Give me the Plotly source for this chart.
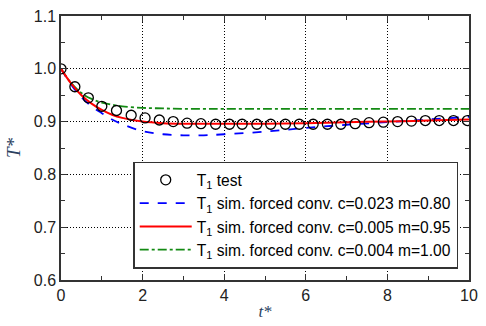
import plotly.graph_objects as go

# ---- data ----
t_test = [0.0, 0.34, 0.67, 1.0, 1.36, 1.72, 2.06, 2.41, 2.75, 3.09, 3.43, 3.79, 4.13,
          4.44, 4.80, 5.14, 5.50, 5.84, 6.18, 6.53, 6.86, 7.21, 7.55, 7.90, 8.25, 8.59,
          8.93, 9.27, 9.62, 9.96]
T_test = [1.000, 0.966, 0.945, 0.929, 0.921, 0.912, 0.907, 0.903, 0.900, 0.897, 0.896,
          0.895, 0.895, 0.895, 0.895, 0.895, 0.895, 0.895, 0.895, 0.895, 0.895, 0.896,
          0.898, 0.899, 0.900, 0.901, 0.902, 0.902, 0.902, 0.902]

t_sim = [0.0, 0.25, 0.5, 0.75, 1.0, 1.25, 1.5, 2.0, 2.5, 3.0, 3.5, 4.0, 5.0, 6.0, 7.0,
         8.0, 9.0, 10.0]
T_blue = [1.000, 0.970, 0.946, 0.929, 0.916, 0.904, 0.895, 0.882, 0.876, 0.874, 0.874,
          0.876, 0.881, 0.888, 0.894, 0.899, 0.904, 0.909]
T_red = [1.000, 0.972, 0.950, 0.934, 0.922, 0.913, 0.907, 0.900, 0.897, 0.896, 0.896,
         0.896, 0.896, 0.897, 0.899, 0.900, 0.902, 0.904]
T_green = [1.000, 0.973, 0.954, 0.943, 0.936, 0.932, 0.929, 0.926, 0.925, 0.924, 0.924,
           0.924, 0.924, 0.924, 0.924, 0.924, 0.924, 0.924]

names = ["T<sub>1</sub> test",
         "T<sub>1</sub> sim. forced conv. c=0.023 m=0.80",
         "T<sub>1</sub> sim. forced conv. c=0.005 m=0.95",
         "T<sub>1</sub> sim. forced conv. c=0.004 m=1.00"]

fig = go.Figure()
fig.add_trace(go.Scatter(x=t_sim, y=T_blue, mode="lines", name=names[1], legendrank=2,
                         line=dict(color="#0000ff", width=1.8, dash="dash", shape="spline")))
fig.add_trace(go.Scatter(x=t_sim, y=T_green, mode="lines", name=names[3], legendrank=4,
                         line=dict(color="#138a13", width=1.8, dash="dashdot", shape="spline")))
fig.add_trace(go.Scatter(x=t_sim, y=T_red, mode="lines", name=names[2], legendrank=3,
                         line=dict(color="#ff0000", width=2, shape="spline")))
fig.add_trace(go.Scatter(x=t_test, y=T_test, mode="markers", name=names[0], legendrank=1,
                         marker=dict(symbol="circle-open", size=10,
                                     color="black", line=dict(width=1.3, color="black"))))

axis_common = dict(
    showline=True, linecolor="#333333", linewidth=1.5, mirror="allticks",
    ticks="inside", ticklen=6, tickwidth=1.2, tickcolor="#333333",
    showgrid=True, gridcolor="black", gridwidth=1, griddash="1px,2px",
    zeroline=False,
    tickfont=dict(family="Liberation Sans, Arial", size=16, color="#222222"),
)

fig.update_xaxes(range=[0, 10], dtick=2, tick0=0,
                 minor=dict(dtick=1, ticks="inside", ticklen=4, tickcolor="#333333", showgrid=False),
                 title=dict(text="<i>t*</i>", standoff=2,
                            font=dict(family="Liberation Serif, Times New Roman", size=17)),
                 **axis_common)
fig.update_yaxes(range=[0.6, 1.1], dtick=0.1, tick0=0.6, tickformat=".1f",
                 minor=dict(dtick=0.05, ticks="inside", ticklen=4, tickcolor="#333333", showgrid=False),
                 title=dict(text="<i>T*</i>", standoff=8,
                            font=dict(family="Liberation Serif, Times New Roman", size=19)),
                 **axis_common)

fig.update_layout(
    width=486, height=326,
    margin=dict(l=61, r=8, t=15, b=39),
    paper_bgcolor="white", plot_bgcolor="white",
    showlegend=True,
    legend=dict(
        x=0.177, y=0.448, xanchor="left", yanchor="top",
        bgcolor="white", bordercolor="#333333", borderwidth=1.5,
        font=dict(family="Liberation Sans, Arial", size=15.6, color="black"),
        traceorder="normal", tracegroupgap=0, itemwidth=52,
    ),
)

fig.write_html("out.html")
